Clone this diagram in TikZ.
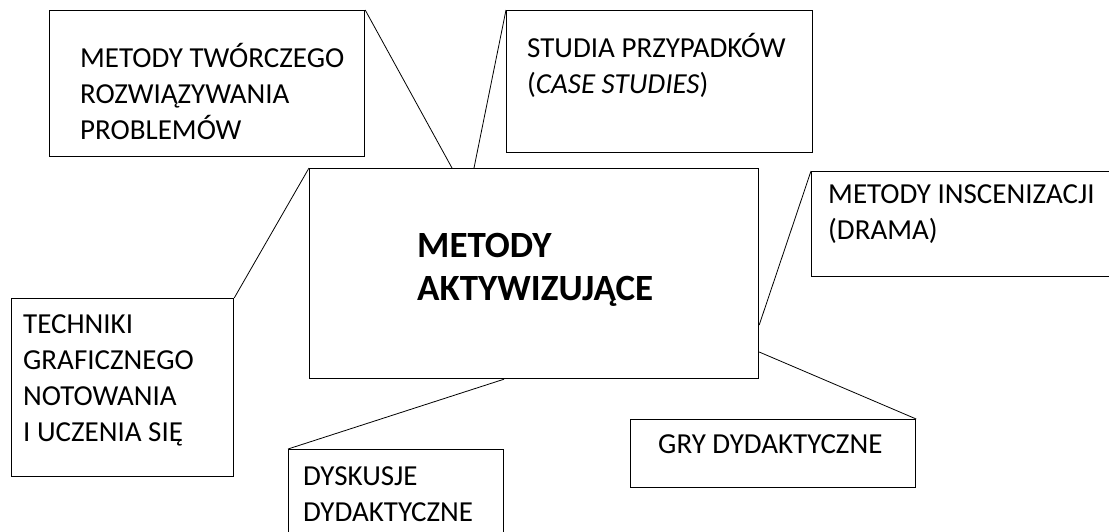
\documentclass[tikz,border=0pt]{standalone}
\usepackage{fontspec}
\setmainfont{Carlito}
\usetikzlibrary{calc}
\tikzset{box/.style={draw,line width=1.2pt,inner sep=0pt,anchor=north west},
  txt/.style={anchor=base west,align=left,inner sep=0pt,font=\fontsize{29}{36}\selectfont},
  link/.style={line width=.8pt}}

\begin{document}
\begin{tikzpicture}[x=1pt,y=-1pt]
\useasboundingbox (0,0) rectangle (1109,531);
\node[box,minimum width=449pt,minimum height=210pt] (central) at (309,168) {};
\node[txt,font=\fontsize{37}{43}\selectfont\bfseries] (centralT) at (417,300) {METODY\\AKTYWIZUJĄCE};
\node[box,minimum width=315pt,minimum height=146pt] (tworcze) at (49,10) {};
\node[txt] (tworczeT) at (80,139) {METODY TWÓRCZEGO\\ROZWIĄZYWANIA\\PROBLEMÓW};
\node[box,minimum width=306pt,minimum height=142pt] (studia) at (506,10) {};
\node[txt] (studiaT) at (527,93) {STUDIA PRZYPADKÓW\\(\textit{CASE STUDIES})};
\node[box,minimum width=310pt,minimum height=105pt] (inscen) at (811,171) {};
\node[txt] (inscenT) at (828,239) {METODY INSCENIZACJI\\(DRAMA)};
\node[box,minimum width=222pt,minimum height=178pt] (techniki) at (11,298) {};
\node[txt] (technikiT) at (23,441) {TECHNIKI\\GRAFICZNEGO\\NOTOWANIA\\I UCZENIA SIĘ};
\node[box,minimum width=215pt,minimum height=100pt] (dyskusje) at (288,449) {};
\node[txt] (dyskusjeT) at (303,521) {DYSKUSJE\\DYDAKTYCZNE};
\node[box,minimum width=285pt,minimum height=68pt] (gry) at (630,419) {};
\node[txt] (gryT) at (658,453) {GRY DYDAKTYCZNE};
\coordinate (c1) at ($(central.north west)+(143,0)$);
\coordinate (c2) at ($(central.north west)+(165,0)$);
\coordinate (c3) at ($(central.north east)+(0,157)$);
\coordinate (c4) at ($(central.north east)+(0,184)$);
\coordinate (c5) at ($(central.south west)+(195,0)$);
\draw[link] (tworcze.north east) -- (c1);
\draw[link] (studia.north west) -- (c2);
\draw[link] (techniki.north east) -- (central.north west);
\draw[link] (inscen.north west) -- (c3);
\draw[link] (c4) -- (gry.north east);
\draw[link] (c5) -- (dyskusje.north west);
\end{tikzpicture}
\end{document}
